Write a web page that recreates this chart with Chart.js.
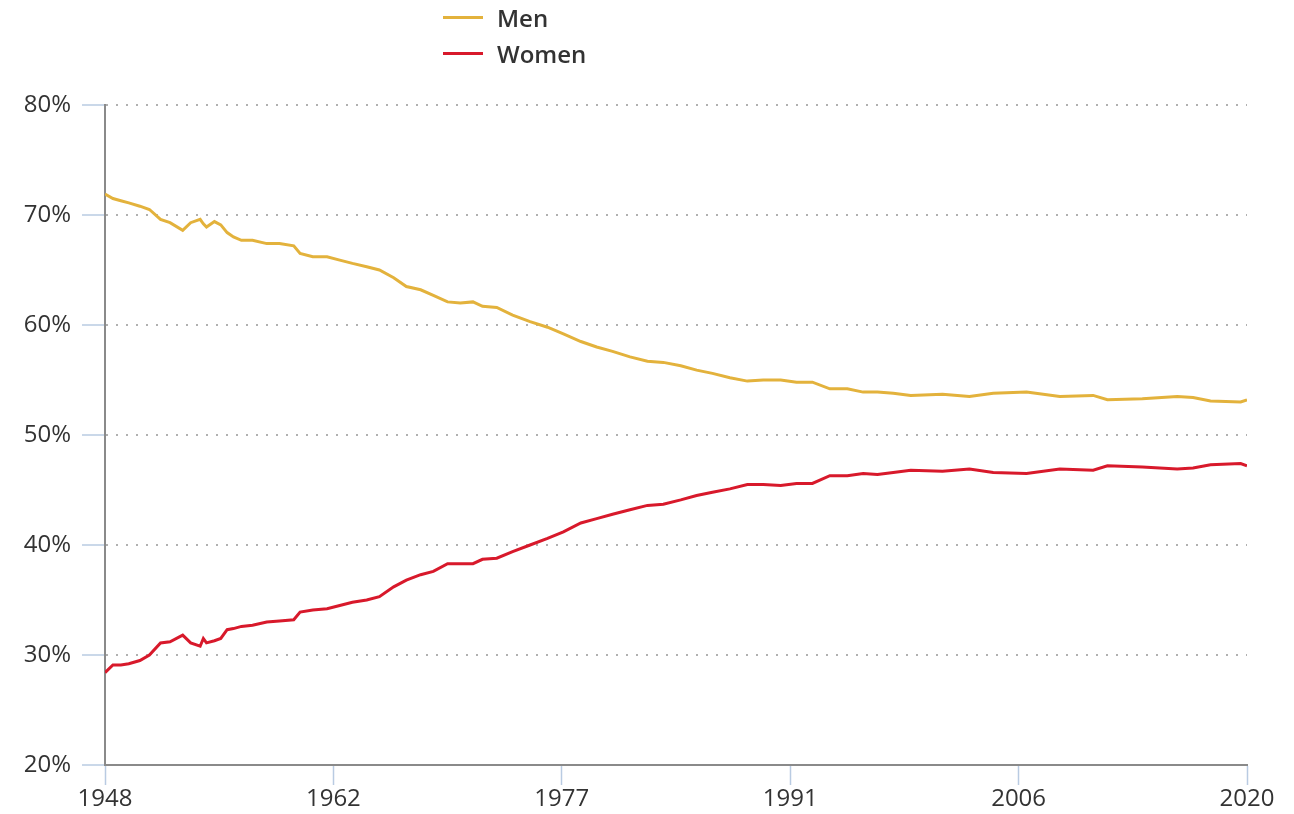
<!DOCTYPE html>
<html>
<head>
<meta charset="utf-8">
<script src="https://cdn.jsdelivr.net/npm/chart.js@4/dist/chart.umd.min.js"></script>
<style>
  html, body { margin: 0; padding: 0; background: #fff; }
  #wrap { position: relative; width: 1294px; height: 814px; }
  #legend { position: absolute; left: 443px; top: -1px; font-family: "Open Sans", sans-serif; font-weight: 600; font-size: 24px; color: #333; }
  #legend .item { display: flex; align-items: center; height: 36px; }
  #legend .swatch { width: 40px; height: 3px; margin-right: 14px; }
</style>
</head>
<body>
<div id="wrap">
  <canvas id="chart" width="1294" height="814"></canvas>
  <div id="legend"></div>
</div>
<script>
// (year, share of total in %)
const years = [
  1948.0, 1948.5, 1949.0, 1949.5, 1950.2, 1950.8, 1951.5, 1952.1, 1952.9, 1953.4,
  1954.0, 1954.2, 1954.4, 1954.9, 1955.3, 1955.7, 1956.1, 1956.6, 1957.3, 1958.2,
  1959.0, 1959.9, 1960.3, 1961.1, 1962.0, 1962.8, 1963.6, 1964.5, 1965.3, 1966.2,
  1967.0, 1967.9, 1968.7, 1969.6, 1970.4, 1971.2, 1971.8, 1972.7, 1973.7, 1974.8,
  1975.9, 1976.9, 1978.0, 1979.0, 1980.0, 1981.1, 1982.2, 1983.2, 1984.3, 1985.3,
  1986.3, 1987.4, 1988.5, 1989.5, 1990.6, 1991.6, 1992.6, 1993.7, 1994.8, 1995.8,
  1996.7, 1997.7, 1998.8, 2000.8, 2002.5, 2004.0, 2006.1, 2008.2, 2010.3, 2011.2,
  2013.4, 2015.6, 2016.6, 2017.7, 2019.6, 2020.0
];
const menShare = [
  71.9, 71.5, 71.3, 71.1, 70.8, 70.5, 69.6, 69.3, 68.6, 69.3,
  69.6, 69.2, 68.9, 69.4, 69.1, 68.4, 68.0, 67.7, 67.7, 67.4,
  67.4, 67.2, 66.5, 66.2, 66.2, 65.9, 65.6, 65.3, 65.0, 64.3,
  63.5, 63.2, 62.7, 62.1, 62.0, 62.1, 61.7, 61.6, 60.9, 60.3,
  59.8, 59.2, 58.5, 58.0, 57.6, 57.1, 56.7, 56.6, 56.3, 55.9,
  55.6, 55.2, 54.9, 55.0, 55.0, 54.8, 54.8, 54.2, 54.2, 53.9,
  53.9, 53.8, 53.6, 53.7, 53.5, 53.8, 53.9, 53.5, 53.6, 53.2,
  53.3, 53.5, 53.4, 53.1, 53.0, 53.2
];
const womenShare = [
  28.4, 29.1, 29.1, 29.2, 29.5, 30.0, 31.1, 31.2, 31.8, 31.1,
  30.8, 31.5, 31.1, 31.3, 31.5, 32.3, 32.4, 32.6, 32.7, 33.0,
  33.1, 33.2, 33.9, 34.1, 34.2, 34.5, 34.8, 35.0, 35.3, 36.2,
  36.8, 37.3, 37.6, 38.3, 38.3, 38.3, 38.7, 38.8, 39.4, 40.0,
  40.6, 41.2, 42.0, 42.4, 42.8, 43.2, 43.6, 43.7, 44.1, 44.5,
  44.8, 45.1, 45.5, 45.5, 45.4, 45.6, 45.6, 46.3, 46.3, 46.5,
  46.4, 46.6, 46.8, 46.7, 46.9, 46.6, 46.5, 46.9, 46.8, 47.2,
  47.1, 46.9, 47.0, 47.3, 47.4, 47.2
];
const seriesNames = ["Men", "Women"];
const seriesColors = ["#e3b23c", "#d8192b"];
const yTicks = [20, 30, 40, 50, 60, 70, 80];
const xRange = [1948, 2020];

const toPoints = vals => years.map((yr, i) => ({ x: yr, y: vals[i] }));
const tickFont = { family: "Open Sans", size: 24 };

const chart = new Chart(document.getElementById("chart"), {
  type: "line",
  data: {
    datasets: [menShare, womenShare].map((vals, i) => ({
      label: seriesNames[i],
      data: toPoints(vals),
      borderColor: seriesColors[i],
      borderWidth: 3,
      pointRadius: 0,
      tension: 0
    }))
  },
  options: {
    responsive: false,
    animation: false,
    layout: { padding: { top: 105, right: 47, left: 0, bottom: 0 } },
    plugins: { legend: { display: false }, tooltip: { enabled: false } },
    scales: {
      x: {
        type: "linear",
        min: xRange[0],
        max: xRange[1],
        afterBuildTicks: sc => {
          const step = (xRange[1] - xRange[0]) / 5;
          sc.ticks = [0, 1, 2, 3, 4, 5].map(i => ({ value: xRange[0] + i * step }));
        },
        afterFit: sc => { sc.height = 49; },
        border: { color: "#8a8a8a", width: 2 },
        grid: { drawOnChartArea: false, drawTicks: true, tickLength: 20, tickColor: "#b9cbe2", tickWidth: 1.5 },
        ticks: {
          color: "#333",
          font: tickFont,
          padding: 0,
          maxRotation: 0,
          callback: v => Math.round(v)
        }
      },
      y: {
        min: 20,
        max: 80,
        afterBuildTicks: sc => { sc.ticks = yTicks.map(v => ({ value: v })); },
        afterFit: sc => { sc.width = 105; },
        border: { color: "#8a8a8a", width: 2, dash: [2, 8] },
        grid: {
          color: "#b0b0b0",
          lineWidth: 2,
          tickLength: 23,
          tickColor: "#b9cbe2",
          tickWidth: 1.5,
          tickBorderDash: []
        },
        ticks: { color: "#333", font: tickFont, padding: 11, callback: v => v + "%" }
      }
    }
  }
});

// vertical legend above the plot
const legend = document.getElementById("legend");
chart.data.datasets.forEach(ds => {
  const item = document.createElement("div");
  item.className = "item";
  item.innerHTML = '<span class="swatch" style="background:' + ds.borderColor + '"></span><span>' + ds.label + "</span>";
  legend.appendChild(item);
});
</script>
</body>
</html>
